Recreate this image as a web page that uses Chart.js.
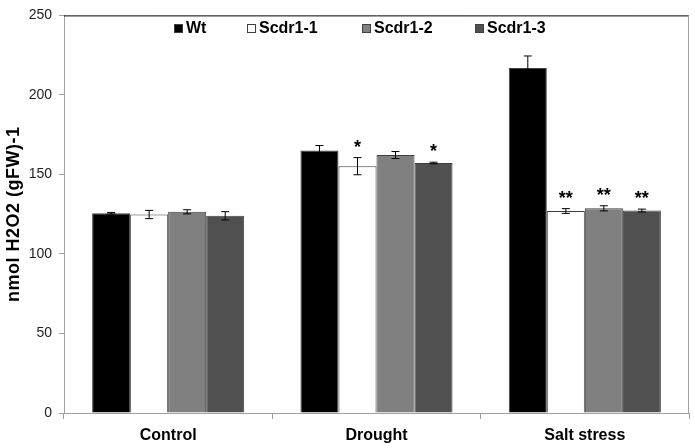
<!DOCTYPE html>
<html>
<head>
<meta charset="utf-8">
<script src="https://cdn.jsdelivr.net/npm/chart.js@4"></script>
<style>
  html, body { margin: 0; padding: 0; background: #fff; }
  #wrap { width: 695px; height: 448px; }
</style>
</head>
<body>
<div id="wrap"><canvas id="myChart" width="695" height="448"></canvas></div>
<script>
const categories = ['Control', 'Drought', 'Salt stress'];
const seriesNames = ['Wt', 'Scdr1-1', 'Scdr1-2', 'Scdr1-3'];
const wt = [125.6, 165, 217];
const scdr1 = [124.8, 155.2, 127];
const scdr2 = [126.5, 162.2, 128.7];
const scdr3 = [124, 157.2, 127.3];
const wtErr = [0.5, 3.2, 7.5];
const scdr1Err = [2.6, 5.4, 1.5];
const scdr2Err = [1.3, 2.2, 1.6];
const scdr3Err = [2.6, 0.5, 0.9];
const stars = [['', '', ''], ['', '*', '**'], ['', '', '**'], ['', '*', '**']];
const yTicks = [0, 50, 100, 150, 200, 250];
const yTitle = 'nmol H2O2 (gFW)-1';

const colors = ['#000000', '#ffffff', '#808080', '#505050'];
const values = [wt, scdr1, scdr2, scdr3];
const errors = [wtErr, scdr1Err, scdr2Err, scdr3Err];
const FONT = '"Liberation Sans", Arial, sans-serif';

const errorBars = {
  id: 'errorBars',
  afterDatasetsDraw(chart) {
    const ctx = chart.ctx;
    const y = chart.scales.y;
    ctx.save();
    chart.data.datasets.forEach((ds, i) => {
      const meta = chart.getDatasetMeta(i);
      meta.data.forEach((bar, j) => {
        const v = ds.data[j], e = errors[i][j];
        const top = y.getPixelForValue(v + e), bot = y.getPixelForValue(v - e);
        ctx.strokeStyle = '#000';
        ctx.lineWidth = 1;
        ctx.beginPath();
        ctx.moveTo(bar.x, top); ctx.lineTo(bar.x, bot);
        ctx.moveTo(bar.x - 4, top); ctx.lineTo(bar.x + 4, top);
        ctx.moveTo(bar.x - 4, bot); ctx.lineTo(bar.x + 4, bot);
        ctx.stroke();
        if (stars[i][j]) {
          ctx.fillStyle = '#000';
          ctx.font = 'bold 18px ' + FONT;
          ctx.textAlign = 'center';
          ctx.textBaseline = 'middle';
          ctx.fillText(stars[i][j], bar.x, top - 10);
        }
      });
    });
    ctx.restore();
  }
};

const frame = {
  id: 'frame',
  afterDraw(chart) {
    const { ctx, chartArea: a } = chart;
    ctx.save();
    ctx.lineWidth = 1;
    ctx.strokeStyle = '#000';
    ctx.beginPath();
    ctx.moveTo(a.left, a.top + 0.5); ctx.lineTo(a.right, a.top + 0.5);
    ctx.stroke();
    ctx.strokeStyle = '#a0a0a0';
    ctx.beginPath();
    ctx.moveTo(a.right - 0.5, a.top); ctx.lineTo(a.right - 0.5, a.bottom);
    ctx.stroke();
    // legend
    const legendX = [174, 247, 362, 475];
    ctx.font = 'bold 16px ' + FONT;
    ctx.textBaseline = 'middle';
    ctx.textAlign = 'left';
    seriesNames.forEach((n, i) => {
      ctx.fillStyle = colors[i];
      ctx.fillRect(legendX[i], 24, 9, 9);
      ctx.strokeStyle = '#404040';
      ctx.strokeRect(legendX[i] + 0.5, 24.5, 8, 8);
      ctx.fillStyle = '#000';
      ctx.fillText(n, legendX[i] + 12, 29);
    });
    // y title
    ctx.translate(14, (a.top + a.bottom) / 2);
    ctx.rotate(-Math.PI / 2);
    ctx.font = 'bold 18px ' + FONT;
    ctx.letterSpacing = '0.5px';
    ctx.textAlign = 'center';
    ctx.fillText(yTitle, 0, 0);
    ctx.restore();
  }
};

new Chart(document.getElementById('myChart').getContext('2d'), {
  type: 'bar',
  data: {
    labels: categories,
    datasets: seriesNames.map((n, i) => ({
      label: n,
      data: values[i],
      backgroundColor: colors[i],
      borderColor: '#404040',
      borderWidth: 1,
      categoryPercentage: 0.73,
      barPercentage: 1.0
    }))
  },
  options: {
    responsive: false,
    animation: false,
    layout: { padding: { top: 9, right: 6, left: 0, bottom: 0 } },
    plugins: { legend: { display: false }, tooltip: { enabled: false } },
    scales: {
      x: {
        grid: { display: true, drawOnChartArea: false, offset: true, tickLength: 6, color: '#a0a0a0' },
        border: { color: '#a0a0a0' },
        ticks: { color: '#000', font: { family: FONT, size: 16, weight: 'bold' }, padding: 7 },
        afterFit: s => { s.height = 35; }
      },
      y: {
        min: 0, max: 250,
        afterBuildTicks: s => { s.ticks = yTicks.map(v => ({ value: v })); },
        grid: { display: true, drawOnChartArea: false, tickLength: 5, color: '#a0a0a0' },
        border: { color: '#a0a0a0' },
        ticks: { color: '#222', font: { family: FONT, size: 14 }, padding: 7 },
        afterFit: s => { s.width = 64; }
      }
    }
  },
  plugins: [errorBars, frame]
});
</script>
</body>
</html>
